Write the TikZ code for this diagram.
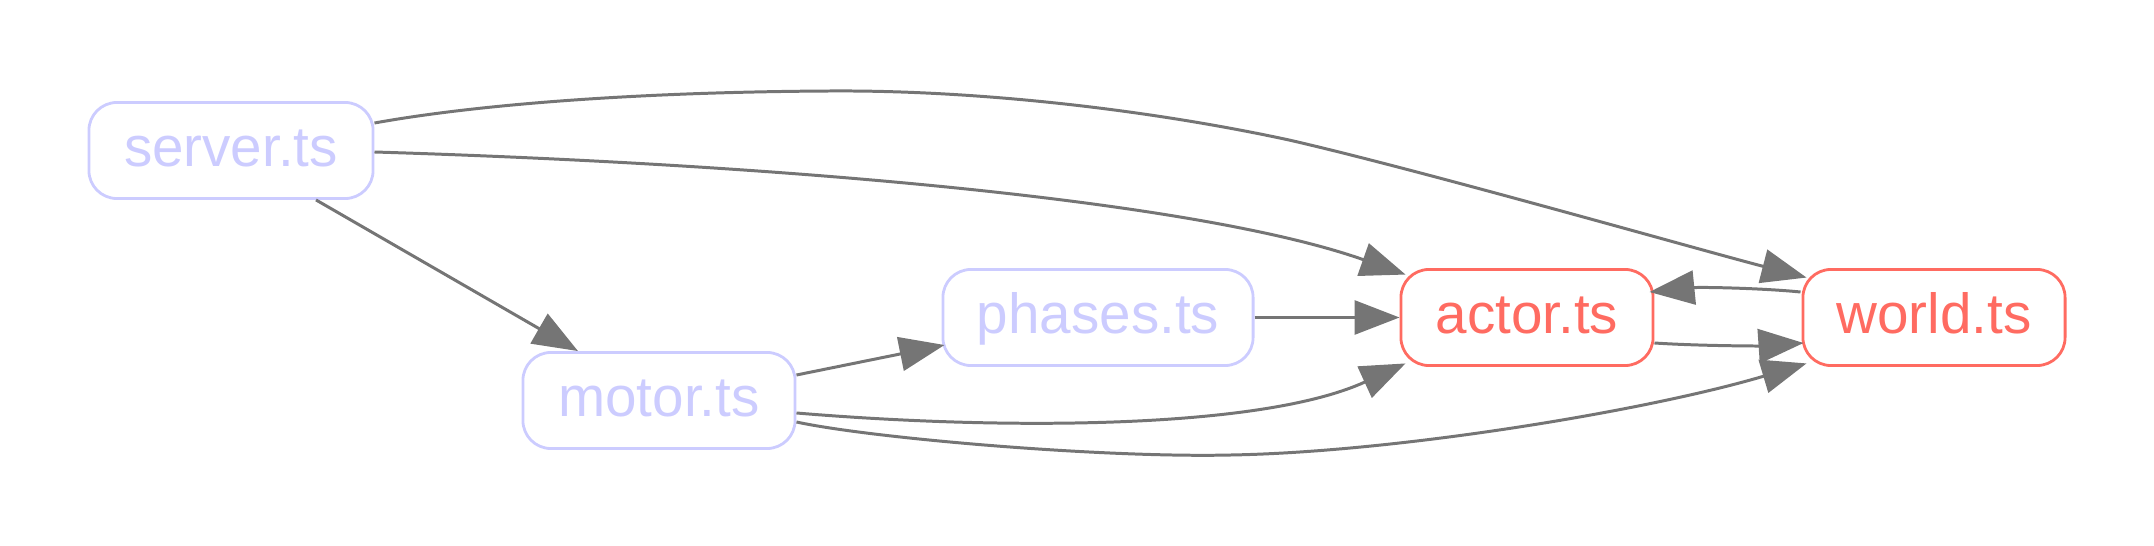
\documentclass[tikz,border=0pt]{standalone}
\usepackage{fontspec}
\setmainfont{Liberation Sans}
\usetikzlibrary{arrows.meta,calc}
\definecolor{purp}{RGB}{204,204,255}
\definecolor{redc}{RGB}{255,107,97}
\definecolor{edgec}{RGB}{117,117,117}
\tikzset{
  filebox/.style={draw, rectangle, rounded corners=0.28cm, line width=0.8pt,
    minimum height=0.96cm, inner sep=0pt, text height=0.31cm, text depth=0pt,
    font=\fontsize{16.1pt}{19pt}\selectfont},
  blue file/.style={filebox, draw=purp, text=purp},
  red file/.style={filebox, draw=redc, text=redc},
  dep/.style={draw=edgec, line width=0.85pt,
    -{Triangle[length=0.45cm,width=0.34cm]}, fill=none},
}
\begin{document}
\begin{tikzpicture}[x=0.01cm,y=-0.01cm]
\useasboundingbox (0,0) rectangle (2154,546);
\node[blue file, minimum width=2.84cm] (server) at (231,150.5) {server.ts};
\node[blue file, minimum width=2.72cm] (motor) at (659,400.5) {motor.ts};
\node[blue file, minimum width=3.10cm] (phases) at (1098,317.5) {phases.ts};
\node[red file, minimum width=2.52cm] (actor) at (1527,317.5) {actor.ts};
\node[red file, minimum width=2.62cm] (world) at (1934,317.5) {world.ts};

% server -> motor
\draw[dep] ($(server.south)+(85,0)$) -- ($(motor.north)+(-81,0)$);
% server -> actor
\draw[dep] ($(server.east)+(0,1.5)$) .. controls (800,165) and (1200,202) .. ($(actor.north west)+(6,6.5)$);
% server -> world
\draw[dep] ($(server.east)+(0,-27.5)$) .. controls (480,104) and (640,92) .. (830,91)
  .. controls (980,90) and (1150,110) .. (1289,140)
  .. controls (1420,170) and (1700,250) .. ($(world.north west)+(5,9.5)$);
% phases -> actor
\draw[dep] (phases.east) -- (actor.west);
% motor -> phases
\draw[dep] ($(motor.east)+(0,-25.5)$) -- ($(phases.west)+(3,27.5)$);
% motor -> actor
\draw[dep] ($(motor.east)+(0,12.5)$) .. controls (1000,430) and (1260,430) .. ($(actor.south west)+(6,-3.5)$);
% motor -> world
\draw[dep] ($(motor.east)+(0,21.5)$) .. controls (870,438) and (1100,458) .. (1231,455)
  .. controls (1400,452) and (1650,410) .. ($(world.south west)+(5,-3.5)$);
% actor -> world
\draw[dep] ($(actor.east)+(0,25.5)$) .. controls (1700,346) and (1760,346) .. ($(world.west)+(2,25.5)$);
% world -> actor
\draw[dep] ($(world.west)+(-1,-25.5)$) .. controls (1760,288) and (1700,287) .. ($(actor.east)+(-5,-25.5)$);
\end{tikzpicture}
\end{document}
